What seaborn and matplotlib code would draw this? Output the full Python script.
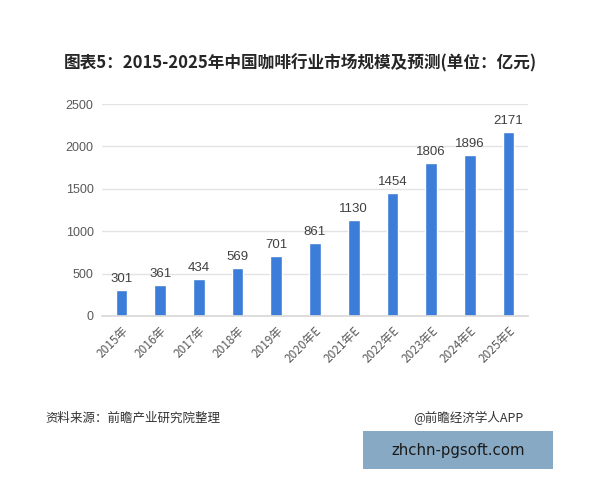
import pandas as pd
import matplotlib.pyplot as plt
import seaborn as sns

# data
years = ['2015年', '2016年', '2017年', '2018年', '2019年', '2020年E',
         '2021年E', '2022年E', '2023年E', '2024年E', '2025年E']
market_size = [301, 361, 434, 569, 701, 861, 1130, 1454, 1806, 1896, 2171]
y_ticks = [0, 500, 1000, 1500, 2000, 2500]

df = pd.DataFrame({'year': years, 'size': market_size})

sns.set_theme(style='white')
plt.rcParams['font.family'] = ['Noto Sans CJK SC', 'DejaVu Sans']

fig = plt.figure(figsize=(6, 4.8), dpi=100)
ax = fig.add_axes([0.17, 0.342, 0.71, 0.441])

sns.barplot(data=df, x='year', y='size', color='#3b7dd8', width=0.3,
            saturation=1, ax=ax)

# label di atas batang
for i, v in enumerate(market_size):
    ax.text(i, v + 60, str(v), ha='center', va='bottom', fontsize=9.5,
            color='#404040', family=['Liberation Sans', 'DejaVu Sans'])

ax.set_ylim(0, 2500)
ax.set_yticks(y_ticks)
ax.set_yticklabels([str(t) for t in y_ticks], fontsize=9, color='#595959',
                   family=['Liberation Sans', 'DejaVu Sans'])
ax.set_xticks(range(len(years)))
ax.set_xticklabels(years, rotation=45, ha='right', rotation_mode='anchor',
                   fontsize=8.5, color='#595959')
ax.tick_params(axis='both', length=0, pad=6)
ax.grid(axis='y', color='#e3e3e3', linewidth=1)
ax.set_axisbelow(True)
ax.set_xlabel('')
ax.set_ylabel('')
for s in ['top', 'right', 'left']:
    ax.spines[s].set_visible(False)
ax.spines['bottom'].set_color('#d9d9d9')

fig.text(0.5, 0.868, '图表5：2015-2025年中国咖啡行业市场规模及预测(单位：亿元)',
         ha='center', va='center', fontsize=12, fontweight='bold', color='#262626')
fig.text(0.075, 0.129, '资料来源：前瞻产业研究院整理', ha='left', va='center',
         fontsize=9, color='#333333')
fig.text(0.872, 0.129, '@前瞻经济学人APP', ha='right', va='center',
         fontsize=9, color='#333333')

# kotak biru di pojok kanan bawah
box = fig.add_axes([363 / 600, 1 - 469 / 480, 190 / 600, 38 / 480])
box.set_facecolor('#87a9c4')
box.set_xticks([])
box.set_yticks([])
for s in box.spines.values():
    s.set_visible(False)
box.text(0.5, 0.5, 'zhchn-pgsoft.com', ha='center', va='center', fontsize=10.7,
         color='#1a1a1a', family=['DejaVu Sans'], transform=box.transAxes)

fig.savefig('out.png', dpi=100, facecolor='white')
